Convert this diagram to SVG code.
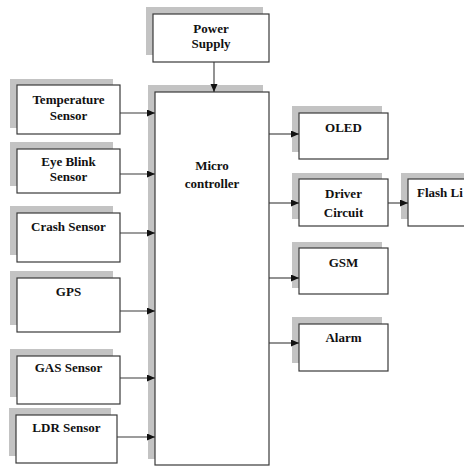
<svg xmlns="http://www.w3.org/2000/svg" width="464" height="466" viewBox="0 0 464 466">
<style>
.sh{fill:#c3c3c3;stroke:none}
.bx{fill:#fff;stroke:#3a3a3a;stroke-width:1.2}
.t{font-family:"Liberation Serif","Times New Roman",serif;font-weight:bold;font-size:13px;fill:#111;text-anchor:middle}
.c{stroke:#3a3a3a;stroke-width:1.1;fill:none;marker-end:url(#ah)}
</style>
<defs>
<marker id="ah" markerUnits="userSpaceOnUse" markerWidth="9" markerHeight="8" refX="8" refY="3.5" orient="auto">
<path d="M0,0 L8,3.5 L0,7 z" fill="#111"/>
</marker>
</defs>
<rect width="464" height="466" fill="#fff"/>
<g id="power">
<rect class="sh" x="146" y="7" width="117" height="48"/>
<rect class="bx" x="153" y="14" width="116" height="48"/>
<text class="t" x="211" y="33">Power</text>
<text class="t" x="211" y="47.5">Supply</text>
</g>
<g id="mc">
<rect class="sh" x="148" y="85" width="115" height="374"/>
<rect class="bx" x="155" y="92" width="114" height="373"/>
<text class="t" x="212" y="170">Micro</text>
<text class="t" x="212" y="188">controller</text>
</g>
<g id="temp">
<rect class="sh" x="10" y="79" width="103" height="49"/>
<rect class="bx" x="17" y="85" width="103" height="49"/>
<text class="t" x="68.5" y="104">Temperature</text>
<text class="t" x="68.5" y="119.5">Sensor</text>
</g>
<g id="eye">
<rect class="sh" x="10" y="142" width="103" height="44"/>
<rect class="bx" x="17" y="149" width="103" height="44"/>
<text class="t" x="68.5" y="166">Eye Blink</text>
<text class="t" x="68.5" y="180.5">Sensor</text>
</g>
<g id="crash">
<rect class="sh" x="10" y="206" width="103" height="49"/>
<rect class="bx" x="17" y="213" width="103" height="49"/>
<text class="t" x="68.5" y="231">Crash Sensor</text>
</g>
<g id="gps">
<rect class="sh" x="10" y="271" width="103" height="54"/>
<rect class="bx" x="17" y="278" width="103" height="54"/>
<text class="t" x="68.5" y="295.5">GPS</text>
</g>
<g id="gas">
<rect class="sh" x="10" y="349" width="103" height="48"/>
<rect class="bx" x="17" y="356" width="103" height="48"/>
<text class="t" x="68.5" y="372">GAS Sensor</text>
</g>
<g id="ldr">
<rect class="sh" x="9" y="408" width="102" height="48"/>
<rect class="bx" x="16" y="415" width="101" height="48"/>
<text class="t" x="66.5" y="432">LDR Sensor</text>
</g>
<g id="oled">
<rect class="sh" x="292" y="106" width="90" height="46"/>
<rect class="bx" x="299" y="113" width="89" height="46"/>
<text class="t" x="343.5" y="132">OLED</text>
</g>
<g id="driver">
<rect class="sh" x="292" y="173" width="90" height="46"/>
<rect class="bx" x="299" y="179" width="89" height="47"/>
<text class="t" x="343.5" y="198">Driver</text>
<text class="t" x="343.5" y="217">Circuit</text>
</g>
<g id="flash">
<rect class="sh" x="401" y="173" width="80" height="46"/>
<rect class="bx" x="408" y="179" width="80" height="47"/>
<text class="t" x="417" y="197" style="text-anchor:start">Flash Li</text>
</g>
<g id="gsm">
<rect class="sh" x="292" y="242" width="90" height="46"/>
<rect class="bx" x="299" y="248" width="89" height="46"/>
<text class="t" x="343.5" y="267">GSM</text>
</g>
<g id="alarm">
<rect class="sh" x="292" y="317" width="90" height="46"/>
<rect class="bx" x="299" y="324" width="89" height="47"/>
<text class="t" x="343.5" y="342">Alarm</text>
</g>
<g id="connectors">
<line class="c" x1="214" y1="62" x2="214" y2="92"/>
<line class="c" x1="120" y1="113" x2="155" y2="113"/>
<line class="c" x1="120" y1="174" x2="155" y2="174"/>
<line class="c" x1="120" y1="233" x2="155" y2="233"/>
<line class="c" x1="120" y1="311" x2="155" y2="311"/>
<line class="c" x1="120" y1="378" x2="155" y2="378"/>
<line class="c" x1="117" y1="437" x2="155" y2="437"/>
<line class="c" x1="269" y1="134" x2="299" y2="134"/>
<line class="c" x1="269" y1="203" x2="299" y2="203"/>
<line class="c" x1="269" y1="278" x2="299" y2="278"/>
<line class="c" x1="269" y1="343" x2="299" y2="343"/>
<line class="c" x1="388" y1="203" x2="408" y2="203"/>
</g>
</svg>
